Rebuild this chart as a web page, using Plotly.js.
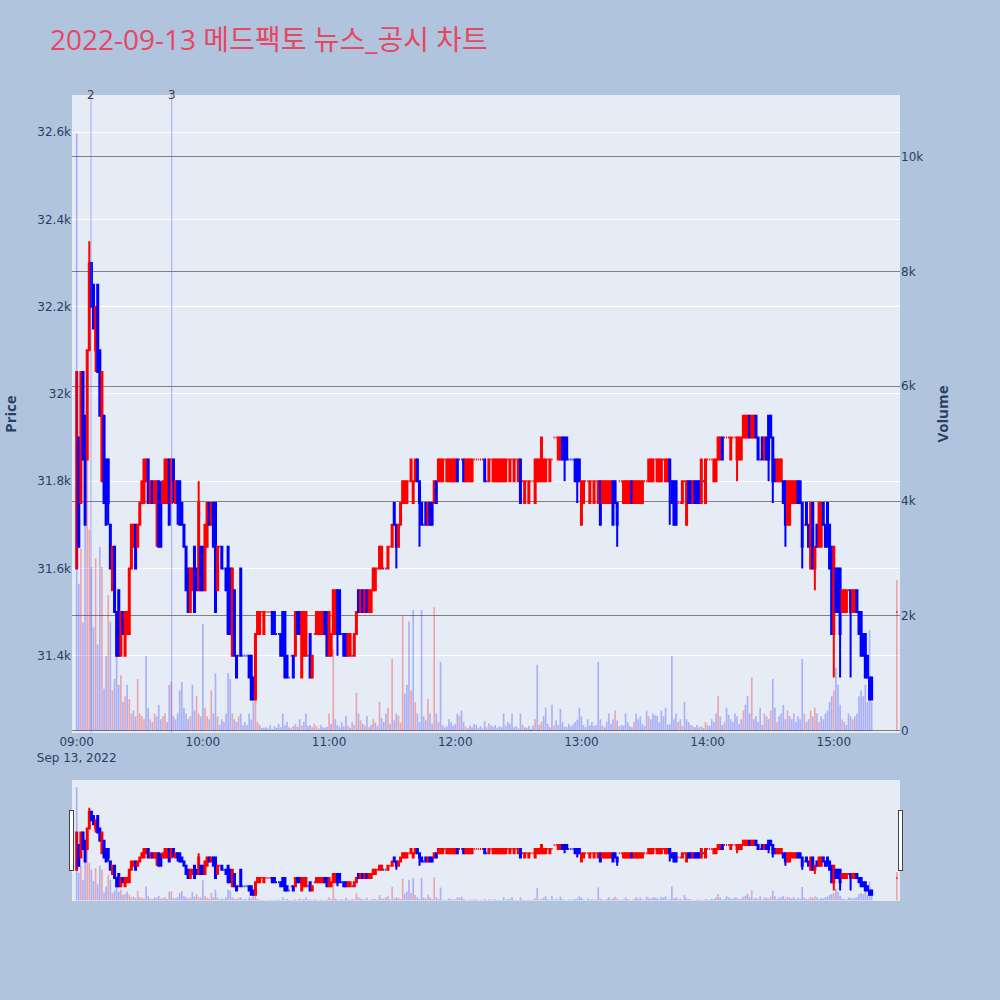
<!DOCTYPE html>
<html><head><meta charset="utf-8">
<script src="https://cdn.plot.ly/plotly-3.0.1.min.js"></script>
<style>html,body{margin:0;padding:0;background:#B0C4DE;}</style>
</head><body><div id="chart" style="width:1000px;height:1000px;"></div>
<script>
const day = '2022-09-13';
const times = [
'09:00','09:01','09:02','09:03','09:04','09:05','09:06','09:07','09:08','09:09',
'09:10','09:11','09:12','09:13','09:14','09:15','09:16','09:17','09:18','09:19',
'09:20','09:21','09:22','09:23','09:24','09:25','09:26','09:27','09:28','09:29',
'09:30','09:31','09:32','09:33','09:34','09:35','09:36','09:37','09:38','09:39',
'09:40','09:41','09:42','09:43','09:44','09:45','09:46','09:47','09:48','09:49',
'09:50','09:51','09:52','09:53','09:54','09:55','09:56','09:57','09:58','09:59',
'10:00','10:01','10:02','10:03','10:04','10:05','10:06','10:07','10:08','10:09',
'10:10','10:11','10:12','10:13','10:14','10:15','10:16','10:17','10:18','10:19',
'10:20','10:21','10:22','10:23','10:24','10:25','10:26','10:27','10:28','10:29',
'10:30','10:31','10:32','10:33','10:34','10:35','10:36','10:37','10:38','10:39',
'10:40','10:41','10:42','10:43','10:44','10:45','10:46','10:47','10:48','10:49',
'10:50','10:51','10:52','10:53','10:54','10:55','10:56','10:57','10:58','10:59',
'11:00','11:01','11:02','11:03','11:04','11:05','11:06','11:07','11:08','11:09',
'11:10','11:11','11:12','11:13','11:14','11:15','11:16','11:17','11:18','11:19',
'11:20','11:21','11:22','11:23','11:24','11:25','11:26','11:27','11:28','11:29',
'11:30','11:31','11:32','11:33','11:34','11:35','11:36','11:37','11:38','11:39',
'11:40','11:41','11:42','11:43','11:44','11:45','11:46','11:47','11:48','11:49',
'11:50','11:51','11:52','11:53','11:54','11:55','11:56','11:57','11:58','11:59',
'12:00','12:01','12:02','12:03','12:04','12:05','12:06','12:07','12:08','12:09',
'12:10','12:11','12:12','12:13','12:14','12:15','12:16','12:17','12:18','12:19',
'12:20','12:21','12:22','12:23','12:24','12:25','12:26','12:27','12:28','12:29',
'12:30','12:31','12:32','12:33','12:34','12:35','12:36','12:37','12:38','12:39',
'12:40','12:41','12:42','12:43','12:44','12:45','12:46','12:47','12:48','12:49',
'12:50','12:51','12:52','12:53','12:54','12:55','12:56','12:57','12:58','12:59',
'13:00','13:01','13:02','13:03','13:04','13:05','13:06','13:07','13:08','13:09',
'13:10','13:11','13:12','13:13','13:14','13:15','13:16','13:17','13:18','13:19',
'13:20','13:21','13:22','13:23','13:24','13:25','13:26','13:27','13:28','13:29',
'13:30','13:31','13:32','13:33','13:34','13:35','13:36','13:37','13:38','13:39',
'13:40','13:41','13:42','13:43','13:44','13:45','13:46','13:47','13:48','13:49',
'13:50','13:51','13:52','13:53','13:54','13:55','13:56','13:57','13:58','13:59',
'14:00','14:01','14:02','14:03','14:04','14:05','14:06','14:07','14:08','14:09',
'14:10','14:11','14:12','14:13','14:14','14:15','14:16','14:17','14:18','14:19',
'14:20','14:21','14:22','14:23','14:24','14:25','14:26','14:27','14:28','14:29',
'14:30','14:31','14:32','14:33','14:34','14:35','14:36','14:37','14:38','14:39',
'14:40','14:41','14:42','14:43','14:44','14:45','14:46','14:47','14:48','14:49',
'14:50','14:51','14:52','14:53','14:54','14:55','14:56','14:57','14:58','14:59',
'15:00','15:01','15:02','15:03','15:04','15:05','15:06','15:07','15:08','15:09',
'15:10','15:11','15:12','15:13','15:14','15:15','15:16','15:17','15:18','15:30'];

const openP = [
31600,31900,31750,32050,31950,31850,32100,32300,32250,32100,
32250,32100,31800,31950,31850,31850,31700,31550,31650,31500,
31550,31400,31500,31400,31450,31450,31600,31650,31700,31650,
31700,31750,31750,31800,31850,31750,31800,31750,31750,31800,
31750,31750,31750,31750,31850,31750,31850,31750,31800,31800,
31750,31700,31650,31600,31500,31550,31650,31600,31550,31650,
31650,31550,31650,31750,31700,31750,31750,31550,31650,31650,
31600,31600,31650,31600,31400,31550,31400,31400,31600,31400,
31400,31400,31400,31400,31350,31300,31450,31450,31500,31450,
31500,31500,31500,31500,31500,31450,31450,31450,31500,31500,
31400,31350,31400,31400,31400,31500,31500,31350,31400,31400,
31400,31450,31350,31450,31450,31450,31450,31450,31500,31500,
31400,31400,31450,31450,31550,31550,31450,31450,31450,31400,
31400,31400,31400,31450,31550,31500,31550,31500,31550,31500,
31500,31550,31550,31600,31600,31600,31600,31600,31600,31650,
31650,31750,31700,31650,31700,31750,31750,31750,31800,31800,
31750,31800,31850,31800,31750,31700,31750,31700,31750,31750,
31750,31800,31800,31800,31800,31850,31800,31800,31800,31800,
31800,31850,31850,31850,31850,31800,31800,31800,31800,31850,
31850,31850,31850,31850,31850,31800,31800,31850,31800,31800,
31800,31800,31800,31800,31800,31850,31800,31850,31800,31850,
31800,31850,31800,31750,31800,31750,31800,31800,31750,31800,
31800,31800,31800,31800,31850,31800,31850,31900,31900,31850,
31850,31900,31900,31900,31850,31850,31850,31850,31850,31850,
31700,31750,31800,31800,31750,31800,31750,31800,31750,31800,
31750,31750,31750,31750,31750,31800,31800,31750,31800,31800,
31750,31750,31750,31750,31800,31750,31750,31750,31750,31750,
31800,31800,31800,31800,31800,31850,31800,31800,31800,31850,
31800,31800,31850,31800,31800,31800,31750,31750,31750,31800,
31700,31800,31800,31750,31800,31800,31800,31750,31800,31750,
31850,31850,31850,31800,31800,31850,31850,31900,31900,31900,
31900,31850,31900,31900,31850,31850,31850,31900,31900,31900,
31950,31900,31900,31950,31900,31850,31900,31850,31900,31950,
31950,31900,31850,31800,31800,31800,31800,31800,31700,31700,
31750,31750,31750,31800,31800,31750,31700,31750,31700,31600,
31750,31600,31700,31650,31650,31750,31700,31750,31700,31650,
31450,31600,31600,31600,31500,31500,31500,31550,31550,31500,
31500,31550,31500,31500,31450,31450,31400,31350,31350,31500];

const highP = [
32050,31900,32050,32050,31950,32100,32350,32300,32250,32200,
32250,32100,32050,31950,31850,31850,31700,31650,31650,31500,
31550,31500,31500,31500,31500,31600,31700,31700,31700,31700,
31750,31800,31850,31850,31850,31800,31800,31800,31800,31800,
31800,31800,31850,31850,31850,31850,31850,31800,31800,31800,
31750,31700,31650,31600,31600,31600,31650,31600,31800,31650,
31650,31700,31750,31750,31750,31750,31750,31650,31650,31650,
31600,31600,31650,31600,31600,31550,31400,31400,31600,31400,
31400,31400,31400,31400,31350,31450,31500,31500,31500,31500,
31500,31500,31500,31500,31500,31450,31450,31450,31500,31500,
31400,31350,31400,31400,31500,31500,31500,31500,31500,31500,
31400,31450,31400,31450,31500,31500,31500,31500,31500,31500,
31500,31450,31550,31550,31550,31550,31450,31450,31450,31450,
31450,31400,31450,31500,31550,31550,31550,31550,31550,31550,
31550,31600,31600,31600,31650,31650,31600,31600,31650,31650,
31700,31750,31700,31700,31750,31800,31800,31800,31800,31850,
31800,31850,31850,31800,31750,31700,31750,31750,31750,31750,
31800,31800,31850,31850,31850,31850,31850,31850,31850,31850,
31850,31850,31850,31850,31850,31850,31850,31850,31850,31850,
31850,31850,31850,31850,31850,31800,31850,31850,31850,31850,
31850,31850,31850,31850,31850,31850,31850,31850,31850,31850,
31850,31850,31800,31800,31800,31800,31800,31800,31850,31850,
31850,31900,31850,31850,31850,31850,31850,31900,31900,31900,
31900,31900,31900,31900,31850,31850,31850,31850,31850,31850,
31800,31800,31800,31800,31800,31800,31800,31800,31800,31800,
31800,31800,31800,31800,31800,31800,31800,31750,31800,31800,
31800,31800,31800,31800,31800,31800,31800,31800,31800,31800,
31800,31800,31850,31850,31850,31850,31850,31850,31850,31850,
31850,31850,31850,31800,31800,31800,31750,31750,31800,31800,
31800,31800,31800,31800,31800,31800,31800,31850,31800,31850,
31850,31850,31850,31850,31850,31900,31900,31900,31900,31900,
31900,31900,31900,31900,31900,31900,31900,31950,31950,31950,
31950,31950,31950,31950,31900,31850,31900,31900,31900,31950,
31950,31900,31850,31850,31850,31850,31800,31800,31800,31800,
31800,31800,31800,31800,31800,31750,31700,31750,31700,31750,
31750,31650,31700,31750,31750,31750,31700,31750,31700,31650,
31650,31600,31600,31600,31550,31550,31550,31550,31550,31550,
31550,31550,31500,31500,31450,31450,31400,31350,31350,31500];

const lowP = [
31600,31650,31750,31850,31700,31850,32100,32200,32150,32050,
32050,31950,31800,31750,31700,31700,31600,31550,31500,31400,
31400,31400,31450,31400,31450,31450,31600,31650,31600,31650,
31700,31750,31750,31800,31750,31750,31750,31750,31650,31650,
31650,31750,31750,31750,31700,31750,31750,31750,31700,31700,
31700,31650,31550,31500,31500,31550,31500,31550,31550,31550,
31550,31550,31650,31700,31700,31650,31500,31550,31650,31600,
31600,31550,31450,31450,31400,31400,31350,31400,31400,31400,
31400,31400,31350,31300,31300,31300,31450,31450,31500,31450,
31500,31500,31500,31450,31450,31450,31450,31400,31400,31350,
31350,31350,31400,31350,31400,31450,31450,31350,31400,31400,
31400,31350,31350,31450,31450,31450,31450,31450,31450,31400,
31400,31400,31450,31450,31400,31450,31450,31400,31400,31400,
31400,31400,31400,31450,31500,31500,31500,31500,31500,31500,
31500,31550,31550,31600,31600,31600,31600,31600,31600,31650,
31650,31700,31600,31650,31700,31750,31750,31750,31800,31800,
31750,31800,31800,31650,31700,31700,31700,31700,31700,31700,
31750,31750,31800,31800,31800,31850,31800,31800,31800,31800,
31800,31800,31850,31850,31800,31800,31800,31800,31800,31850,
31850,31850,31850,31850,31800,31800,31800,31850,31800,31800,
31800,31800,31800,31800,31800,31850,31800,31850,31800,31850,
31800,31750,31800,31750,31800,31750,31800,31800,31750,31800,
31800,31800,31800,31800,31850,31800,31850,31900,31900,31850,
31850,31850,31800,31850,31850,31850,31850,31800,31750,31800,
31700,31750,31800,31800,31750,31800,31750,31800,31750,31700,
31750,31750,31750,31750,31750,31700,31750,31650,31800,31800,
31750,31750,31750,31750,31750,31750,31750,31750,31750,31750,
31800,31800,31800,31800,31800,31850,31800,31800,31800,31850,
31800,31800,31700,31750,31700,31700,31750,31750,31750,31800,
31700,31750,31750,31750,31750,31750,31750,31750,31800,31750,
31850,31850,31850,31800,31800,31850,31850,31850,31900,31900,
31900,31850,31900,31900,31800,31850,31850,31900,31900,31900,
31900,31900,31900,31900,31850,31850,31850,31850,31850,31800,
31900,31750,31800,31800,31800,31800,31750,31650,31700,31700,
31750,31750,31750,31750,31750,31600,31700,31700,31650,31600,
31600,31550,31650,31650,31650,31700,31650,31650,31600,31450,
31350,31500,31500,31350,31500,31500,31500,31550,31350,31500,
31500,31500,31450,31400,31400,31350,31350,31300,31300,31500];

const closeP = [
32050,31650,32050,31850,31700,32100,32300,32200,32150,32200,
32050,31950,32050,31750,31700,31750,31600,31650,31500,31400,
31400,31500,31450,31500,31500,31600,31700,31700,31600,31700,
31750,31800,31850,31850,31750,31800,31750,31800,31800,31650,
31650,31800,31850,31850,31700,31850,31800,31800,31750,31700,
31700,31650,31550,31500,31600,31600,31500,31550,31750,31550,
31550,31700,31750,31700,31750,31650,31500,31650,31650,31600,
31600,31550,31450,31450,31600,31400,31350,31400,31400,31400,
31400,31400,31350,31300,31300,31450,31500,31500,31500,31500,
31500,31500,31500,31450,31450,31450,31450,31400,31400,31350,
31350,31350,31400,31350,31500,31450,31450,31500,31500,31500,
31400,31350,31400,31450,31500,31500,31500,31500,31450,31400,
31500,31450,31550,31550,31450,31450,31450,31400,31400,31450,
31450,31400,31450,31500,31500,31550,31500,31550,31500,31550,
31550,31600,31600,31600,31650,31650,31600,31600,31650,31650,
31700,31700,31650,31700,31750,31800,31800,31800,31800,31850,
31800,31850,31800,31750,31700,31700,31700,31750,31700,31700,
31800,31750,31850,31850,31850,31850,31850,31850,31850,31850,
31850,31800,31850,31850,31800,31850,31850,31850,31850,31850,
31850,31850,31850,31850,31800,31800,31850,31850,31850,31850,
31850,31850,31850,31850,31850,31850,31850,31850,31850,31850,
31850,31750,31800,31800,31800,31800,31800,31800,31850,31850,
31850,31900,31850,31850,31850,31850,31850,31900,31900,31900,
31900,31850,31850,31850,31850,31850,31850,31800,31800,31800,
31800,31800,31800,31800,31800,31800,31800,31800,31800,31700,
31800,31800,31800,31800,31800,31700,31750,31700,31800,31800,
31800,31800,31800,31800,31750,31800,31800,31800,31800,31800,
31800,31800,31850,31850,31850,31850,31850,31850,31850,31850,
31850,31850,31800,31750,31700,31700,31750,31750,31800,31800,
31800,31750,31750,31800,31750,31750,31750,31850,31800,31850,
31850,31850,31850,31850,31850,31900,31900,31850,31900,31900,
31900,31900,31900,31900,31900,31900,31900,31950,31950,31950,
31900,31950,31950,31900,31850,31850,31850,31900,31850,31850,
31900,31800,31800,31850,31850,31850,31750,31700,31800,31800,
31800,31800,31800,31750,31750,31650,31700,31700,31650,31750,
31600,31650,31650,31750,31750,31700,31650,31650,31600,31450,
31650,31500,31500,31450,31550,31550,31550,31550,31500,31550,
31550,31500,31450,31400,31400,31350,31350,31300,31300,31500];

const volume = [
10400,2560,3170,1890,4700,6550,3500,2850,1800,3000,
1500,3200,2850,730,1300,2360,1900,700,900,1600,
800,960,500,600,800,550,300,350,250,900,
300,250,200,1300,400,200,150,300,250,450,
200,250,300,150,800,850,250,200,300,700,
850,400,300,200,250,800,350,600,300,250,
1860,400,250,200,700,300,1000,250,100,200,
150,300,1000,900,300,200,150,250,300,100,
150,100,300,200,500,700,150,100,50,50,
60,40,100,30,80,50,120,60,300,90,
150,60,40,80,120,70,200,90,150,300,
80,100,60,120,80,40,100,60,50,70,
300,120,1420,200,100,60,150,80,260,90,
50,150,100,660,300,180,120,90,250,60,
100,200,140,80,500,220,150,300,400,120,
1250,180,300,260,140,2000,650,800,1900,700,
2100,500,300,150,2100,250,180,550,300,120,
2150,300,150,1200,100,60,80,200,150,90,
120,300,260,350,150,70,40,90,60,120,
100,50,80,40,160,60,130,90,70,100,
50,80,60,300,90,150,120,300,60,80,
40,300,100,60,50,80,30,90,200,1150,
100,150,250,400,120,60,450,90,180,100,
380,150,70,60,120,80,110,150,190,400,
250,100,60,200,90,150,80,100,1200,200,
90,60,150,300,120,200,350,180,80,100,
90,300,150,80,60,150,300,200,250,120,
80,350,250,200,300,270,260,150,350,250,
400,100,120,1300,200,300,150,200,80,500,
200,150,100,80,60,100,60,80,50,150,
100,80,200,150,300,600,250,100,150,400,
280,200,150,300,250,120,200,350,450,600,
300,930,200,250,150,400,100,300,250,200,
350,900,400,150,250,300,450,200,350,250,
200,300,150,250,200,1250,300,150,200,350,
250,400,300,150,250,200,300,350,500,600,
700,1100,800,450,200,150,100,300,250,200,
250,300,600,700,600,800,500,1750,500,2620];

const newsTimes = ['09:06:48', '09:45:10'];
const newsLabels = ['2', '3'];

const xs = times.map(t => day + ' ' + t);
const volColors = closeP.map((c, i) => (i > 0 && c > closeP[i - 1]) ? 'rgba(255,0,0,0.3)' : 'rgba(0,0,255,0.25)');

const xRange = [day + ' 08:57:46', day + ' 15:31:29'];
const priceRange = [31223, 32685];
const volRange = [-40, 11070];

const traces = [
  {
    type: 'candlestick', x: xs, open: openP, high: highP, low: lowP, close: closeP,
    increasing: {line: {color: 'red', width: 2}, fillcolor: 'red'},
    decreasing: {line: {color: 'blue', width: 2}, fillcolor: 'blue'},
    xaxis: 'x', yaxis: 'y', showlegend: false, name: 'Price'
  },
  {
    type: 'bar', x: xs, y: volume, xaxis: 'x', yaxis: 'y2',
    marker: {color: volColors, line: {width: 0}}, showlegend: false, name: 'Volume'
  }
];

const shapes = newsTimes.map(t => ({
  type: 'line', xref: 'x', yref: 'paper', x0: day + ' ' + t, x1: day + ' ' + t, y0: 0, y1: 1,
  line: {color: 'rgba(95,105,235,0.5)', width: 1}
}));
const annotations = newsTimes.map((t, i) => ({
  xref: 'x', yref: 'paper', x: day + ' ' + t, y: 1, text: newsLabels[i],
  showarrow: false, xanchor: 'center', yanchor: 'middle',
  font: {size: 12, color: '#444'}
}));

const layout = {
  width: 1000, height: 1000,
  paper_bgcolor: '#B0C4DE', plot_bgcolor: '#E5ECF6',
  font: {family: '"DejaVu Sans", verdana, sans-serif', size: 12, color: '#2a3f5f'},
  margin: {l: 72, r: 100, t: 95, b: 100},
  showlegend: false,
  title: {
    text: '2022-09-13 메드팩토 뉴스_공시 차트',
    x: 0.05, xref: 'container', xanchor: 'left',
    y: 0.96, yref: 'container', yanchor: 'middle',
    font: {size: 28, color: '#E9465F', family: '"Open Sans", "Noto Sans CJK KR", sans-serif'}
  },
  xaxis: {
    type: 'date', range: xRange, showgrid: false, zeroline: false,
    rangeslider: {
      visible: true, thickness: 0.15, range: xRange, bgcolor: '#E5ECF6',
      yaxis: {rangemode: 'fixed', range: priceRange},
      yaxis2: {rangemode: 'fixed', range: volRange}
    }
  },
  yaxis: {
    title: {text: 'Price', font: {size: 15, weight: 'bold', family: '"Open Sans", sans-serif'}, standoff: 22},
    range: priceRange, gridcolor: 'white', zeroline: false, fixedrange: true
  },
  yaxis2: {
    title: {text: 'Volume', font: {size: 15, weight: 'bold', family: '"Open Sans", sans-serif'}},
    overlaying: 'y', side: 'right', range: volRange,
    showgrid: true, gridcolor: 'grey', zeroline: false
  },
  shapes: shapes,
  annotations: annotations
};

Plotly.newPlot('chart', traces, layout, {displayModeBar: false, responsive: false});
</script>
</body></html>
